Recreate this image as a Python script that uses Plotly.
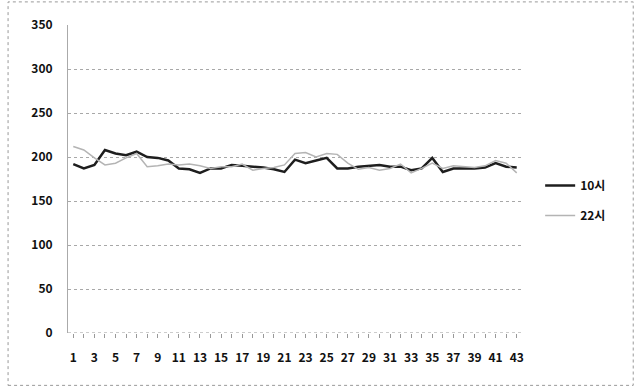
import plotly.graph_objects as go

days = list(range(1, 44))
s10 = [192, 187, 191, 208, 204, 202, 206, 200, 199, 196,
       187, 186, 182, 187, 187, 191, 190, 189, 188, 186,
       183, 197, 193, 196, 199, 187, 187, 189, 190, 191,
       189, 189, 185, 187, 199, 183, 187, 187, 187, 188,
       193, 189, 188]
s22 = [212, 208, 199, 191, 193, 199, 204, 189, 190, 192,
       191, 192, 190, 187, 189, 189, 192, 185, 187, 188,
       191, 204, 205, 200, 204, 203, 193, 186, 188, 185,
       187, 192, 182, 187, 193, 187, 190, 189, 188, 190,
       196, 193, 182]
names = ["10시", "22시"]
y_ticks = [0, 50, 100, 150, 200, 250, 300, 350]
x_ticktext = [str(d) if d % 2 == 1 else "" for d in days]

font_family = "Noto Sans CJK KR, DejaVu Sans, sans-serif"

fig = go.Figure()
fig.add_trace(go.Scatter(x=days, y=s10, mode="lines", name=names[0],
                         legendgroup="a",
                         line=dict(color="#1e1e1e", width=2.5)))
fig.add_trace(go.Scatter(x=days, y=s22, mode="lines", name=names[1],
                         legendgroup="b",
                         line=dict(color="#b4b4b4", width=1.5)))

fig.update_layout(
    width=637, height=388,
    margin=dict(l=68, r=115, t=25, b=55, autoexpand=False),
    paper_bgcolor="white", plot_bgcolor="white",
    font=dict(family=font_family, size=12, color="#111", weight="bold"),
    showlegend=True,
    legend=dict(x=1.04, y=0.43, xanchor="left", yanchor="middle",
                font=dict(size=12, weight="bold"), bgcolor="rgba(0,0,0,0)",
                tracegroupgap=11, itemwidth=30),
    xaxis=dict(range=[0.5, 43.5], tickmode="array", tickvals=days,
               ticktext=x_ticktext, ticks="outside", ticklen=4,
               tickcolor="#999", showgrid=False, zeroline=False,
               showline=False, tickfont=dict(size=12, weight="bold"),
               ticklabelstandoff=10),
    yaxis=dict(range=[0, 350], tickmode="array", tickvals=y_ticks,
               showgrid=True, gridcolor="#a8a8a8", griddash="dot",
               gridwidth=1, zeroline=False, showline=True,
               linecolor="#aaa", linewidth=1, ticks="",
               tickfont=dict(size=12, weight="bold"), ticklabelstandoff=12),
    shapes=[
        dict(type="rect", xref="paper", yref="paper", x0=-0.132, x1=1.245,
             y0=-0.17, y1=1.075, line=dict(color="#999", width=1, dash="dot"),
             fillcolor="rgba(0,0,0,0)"),
        dict(type="line", xref="paper", yref="y", x0=0, x1=1, y0=0, y1=0,
             line=dict(color="#999", width=1, dash="dot")),
    ],
)

fig.write_html("out.html", config={"displayModeBar": False},
               post_script="document.body.style.margin='0';")
